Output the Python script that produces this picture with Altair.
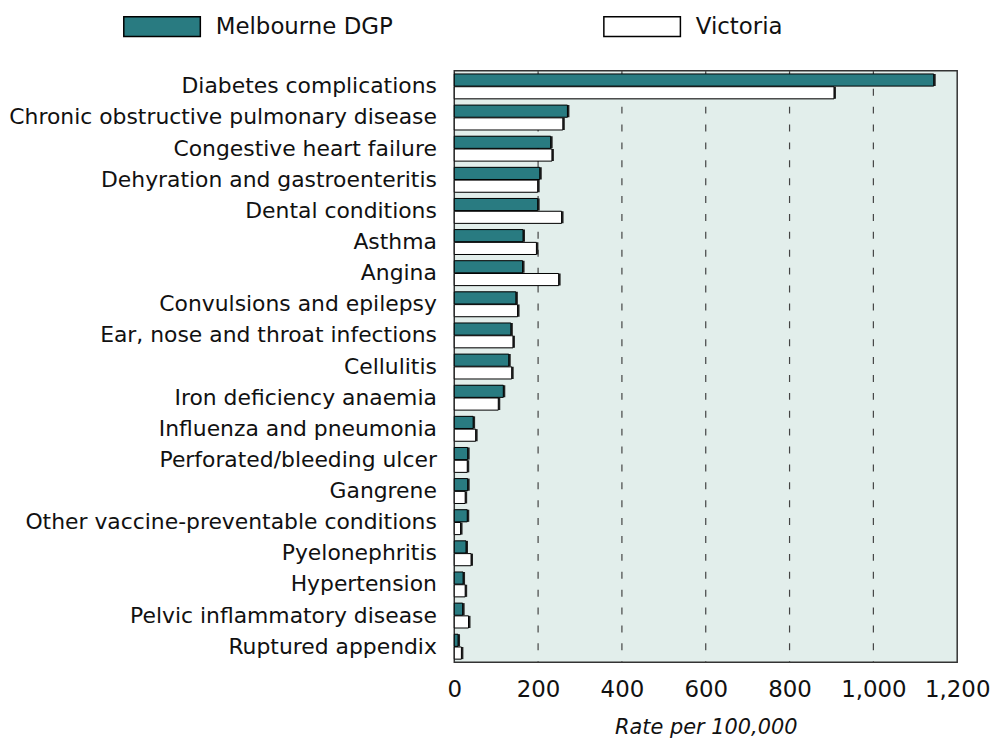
import altair as alt
import pandas as pd

categories = [
    "Diabetes complications",
    "Chronic obstructive pulmonary disease",
    "Congestive heart failure",
    "Dehyration and gastroenteritis",
    "Dental conditions",
    "Asthma",
    "Angina",
    "Convulsions and epilepsy",
    "Ear, nose and throat infections",
    "Cellulitis",
    "Iron deficiency anaemia",
    "Influenza and pneumonia",
    "Perforated/bleeding ulcer",
    "Gangrene",
    "Other vaccine-preventable conditions",
    "Pyelonephritis",
    "Hypertension",
    "Pelvic inflammatory disease",
    "Ruptured appendix",
]
melbourne = [1144, 270, 230, 204, 199, 164, 163, 147, 135, 130, 117, 45, 32, 32, 31, 28, 21, 20, 9]
victoria = [906, 259, 233, 199, 256, 196, 249, 151, 140, 137, 105, 51, 31, 26, 15, 40, 26, 34, 17]
series = ["Melbourne DGP", "Victoria"]
x_ticks = [0, 200, 400, 600, 800, 1000, 1200]
grid_values = [200, 400, 600, 800, 1000]

rows = []
for c, m, v in zip(categories, melbourne, victoria):
    rows.append({"cat": c, "series": series[0], "value": m})
    rows.append({"cat": c, "series": series[1], "value": v})
df = pd.DataFrame(rows)
grid_df = pd.DataFrame({"g": grid_values})

FONT = "DejaVu Sans"

x_enc = alt.X(
    "value:Q",
    scale=alt.Scale(domain=[0, 1200], nice=False),
    axis=alt.Axis(
        values=x_ticks,
        format=",d",
        grid=False,
        ticks=False,
        domain=False,
        labelFontSize=23,
        labelPadding=16,
        labelColor="#111",
        labelOverlap=False,
        labelFlush=False,
        title="Rate per 100,000",
        titleFontStyle="italic",
        titleFontWeight="normal",
        titleFontSize=21,
        titlePadding=16,
        titleColor="#111",
    ),
)
y_enc = alt.Y(
    "cat:N",
    sort=categories,
    scale=alt.Scale(paddingInner=0.2, paddingOuter=0.1),
    axis=alt.Axis(
        title=None,
        ticks=False,
        domain=False,
        labelFontSize=22,
        labelPadding=18,
        labelColor="#111",
        labelLimit=500,
        minExtent=447,
        maxExtent=447,
    ),
)
yoff = alt.YOffset("series:N", sort=series, scale=alt.Scale(paddingInner=0.05))

grid = alt.Chart(grid_df).mark_rule(
    color="#444", strokeDash=[7, 11], strokeWidth=1.2
).encode(x=alt.X("g:Q", scale=alt.Scale(domain=[0, 1200], nice=False)))

shadow = alt.Chart(df).mark_bar(
    color="#222", xOffset=2, x2Offset=2, yOffset=1.5
).encode(x=x_enc, y=y_enc, yOffset=yoff)

bars = alt.Chart(df).mark_bar(stroke="black", strokeWidth=1).encode(
    x=x_enc,
    y=y_enc,
    yOffset=yoff,
    color=alt.Color(
        "series:N",
        scale=alt.Scale(domain=series, range=["#297b81", "#ffffff"]),
        legend=alt.Legend(
            title=None,
            orient="none",
            direction="horizontal",
            legendX=-308,
            legendY=-59,
            symbolType="M-3,-0.78H3V0.78H-3Z",
            symbolSize=659,
            symbolStrokeColor="black",
            symbolStrokeWidth=1.5,
            symbolOpacity=1,
            labelFontSize=23,
            labelOffset=40,
            labelColor="#111",
            columnPadding=208,
            labelLimit=400,
        ),
    ),
)

chart = (
    alt.layer(grid, shadow, bars)
    .properties(width=506, height=595, padding={"left": 0, "top": 2, "right": 0, "bottom": 0})
    .configure(font=FONT)
    .configure_view(fill="#e2eeeb", stroke="#333", strokeWidth=1.5)
)

chart.save("out.html", embed_options={"renderer": "svg", "actions": False})
